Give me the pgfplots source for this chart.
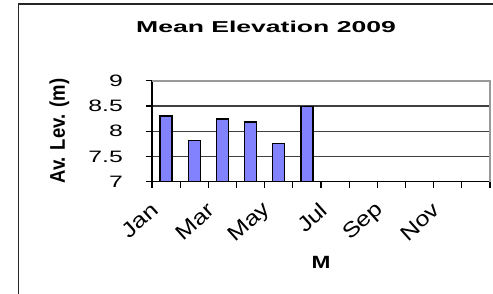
\documentclass[border=0pt]{standalone}
\usepackage{fontspec}
\setmainfont{Liberation Sans}
\newfontfamily\tickfont{Liberation Sans}[FakeStretch=1.5]
\newfontfamily\xfont{Liberation Sans}[FakeStretch=1.2]
\newfontfamily\titlefont{Liberation Sans}[FakeStretch=1.68]
\newfontfamily\mfont{Liberation Sans}[FakeStretch=1.28]
\usepackage{pgfplots}
\pgfplotsset{compat=1.18}
\usepackage{graphicx}
\definecolor{barfill}{HTML}{8282FF}
\begin{document}
\begin{tikzpicture}[x=1pt,y=1pt]
\useasboundingbox (0,0) rectangle (493,293);
\fill[white] (0,0) rectangle (493,293);
\draw[line width=1.6pt, black!85] (18.3,-5) -- (18.3,289) -- (500,289);
\begin{axis}[
  at={(152pt,111.3pt)}, anchor=south west,
  width=338pt, height=101pt, scale only axis,
  xmin=0.5, xmax=12.5, ymin=7, ymax=9,
  axis x line*=bottom, axis y line*=left,
  axis line style={line width=1.2pt, black},
  xtick={0.5,1.5,...,12.5},
  x tick label as interval,
  xticklabels={Jan,,Mar,,May,,Jul,,Sep,,Nov,},
  xticklabel style={xshift=-11pt, yshift=-19pt, rotate=42, anchor=east, inner sep=0pt,
      font=\xfont\fontsize{21}{22}\selectfont},
  ytick={7,7.5,8,8.5,9},
  yticklabels={7,7.5,8,8.5,9},
  yticklabel style={font=\tickfont\fontsize{16.5}{17}\selectfont, anchor=east, inner sep=0pt, xshift=-23pt},
  /pgf/number format/assume math mode=true,
  tick align=outside,
  major tick length=6pt,
  tick style={line width=1.2pt, black},
  ymajorgrids, grid style={line width=1.3pt, black!75},
  ylabel={\scalebox{1}[1.15]{\bfseries\fontsize{18.5}{19}\selectfont Av. Lev. (m)}},
  ylabel style={at={(axis description cs:-0.274,0.5)}, anchor=center, rotate=0},
  xlabel={\mfont\bfseries\fontsize{17.7}{18}\selectfont M},
  xlabel style={at={(axis description cs:0.5,-0.80)}, anchor=center},
  after end axis/.code={
    \draw[line width=1.6pt, black!40] (rel axis cs:0,1) -- (rel axis cs:1,1) -- (rel axis cs:1,0);
  },
  clip=false,
]
\addplot[ybar, bar width=12pt, fill=barfill, draw=black, line width=1.3pt]
  coordinates {(1,8.30) (2,7.81) (3,8.24) (4,8.18) (5,7.75) (6,8.49)};
\end{axis}
\node[anchor=base, font=\titlefont\bfseries\fontsize{15.8}{16}\selectfont] at (266,261) {Mean Elevation 2009};
\end{tikzpicture}
\end{document}
